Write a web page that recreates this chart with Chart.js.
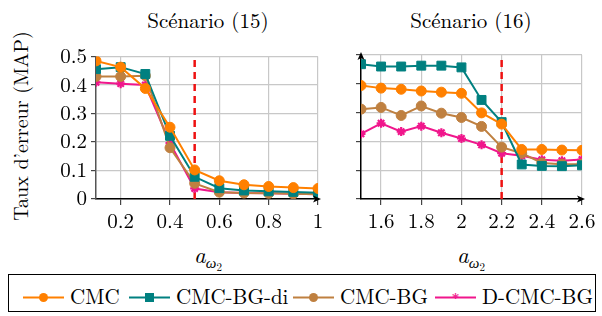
<!DOCTYPE html>
<html>
<head>
<meta charset="utf-8">
<script src="https://cdn.jsdelivr.net/npm/chart.js@4"></script>
<style>
  body { margin: 0; background: #fff; width: 602px; height: 316px; position: relative; overflow: hidden;
         font-family: 'Latin Modern Roman', 'Liberation Serif', serif; color: #000; }
  .box { position: absolute; }
  .title { position: absolute; font-size: 21px; text-align: center; width: 200px; }
  .xlab { position: absolute; font-size: 23px; text-align: center; width: 100px; }
  .xlab sub { font-size: 15px; vertical-align: -5px; }
  .xlab sub sub { font-size: 11px; vertical-align: -3px; }
  #ylab { position: absolute; left: 19px; top: 126px; font-size: 20px; white-space: nowrap;
          transform: translate(-50%, -50%) rotate(-90deg); }
  #legend { position: absolute; left: 8px; top: 274px; width: 588px; height: 38px; border: 1px solid #000;
            box-sizing: border-box; font-size: 21px; }
  .item { position: absolute; top: 5px; white-space: nowrap; }
  .item svg { vertical-align: -3px; margin-right: 6px; }
</style>
</head>
<body>
<div class="title" style="left:108px; top:4px;">Scénario (15)</div>
<div class="title" style="left:371px; top:4px;">Scénario (16)</div>
<div id="ylab">Taux d’erreur (MAP)</div>
<div class="xlab" style="left:158px; top:237px;"><i>a</i><sub><i>ω</i><sub>2</sub></sub></div>
<div class="xlab" style="left:421px; top:237px;"><i>a</i><sub><i>ω</i><sub>2</sub></sub></div>

<div class="box" style="left:40px; top:40px; width:290px; height:200px;"><canvas id="c15"></canvas></div>
<div class="box" style="left:340px; top:40px; width:262px; height:200px;"><canvas id="c16"></canvas></div>
<div id="legend"></div>

<script>
// series
const names = ["CMC", "CMC-BG-di", "CMC-BG", "D-CMC-BG"];
const colors = ["#ff8000", "#008080", "#bf8040", "#f0168c"];
const markers = ["circle", "rect", "circle", "star"];
const markerSize = [5, 6.3, 5, 4.5];

// scenario 15
const x15 = [0.1, 0.2, 0.3, 0.4, 0.5, 0.6, 0.7, 0.8, 0.9, 1.0];
const cmc15 =    [0.485, 0.463, 0.388, 0.252, 0.102, 0.064, 0.050, 0.044, 0.040, 0.037];
const cmcBgDi15 = [0.456, 0.463, 0.439, 0.222, 0.078, 0.038, 0.030, 0.027, 0.025, 0.022];
const cmcBg15 =  [0.430, 0.430, 0.433, 0.180, 0.055, 0.024, 0.021, 0.020, 0.018, 0.017];
const dCmcBg15 = [0.410, 0.405, 0.400, 0.196, 0.037, 0.024, 0.021, 0.020, 0.018, 0.017];
const xTicks15 = [0.2, 0.4, 0.6, 0.8, 1];
const cut15 = 0.5;

// scenario 16
const x16 = [1.5, 1.6, 1.7, 1.8, 1.9, 2.0, 2.1, 2.2, 2.3, 2.4, 2.5, 2.6];
const cmc16 =    [0.394, 0.385, 0.381, 0.375, 0.371, 0.367, 0.299, 0.260, 0.172, 0.172, 0.170, 0.169];
const cmcBgDi16 = [0.468, 0.460, 0.460, 0.463, 0.463, 0.457, 0.344, 0.267, 0.120, 0.115, 0.114, 0.117];
const cmcBg16 =  [0.312, 0.318, 0.290, 0.323, 0.298, 0.283, 0.252, 0.180, 0.159, 0.125, 0.121, 0.121];
const dCmcBg16 = [0.226, 0.263, 0.234, 0.253, 0.230, 0.210, 0.188, 0.159, 0.150, 0.136, 0.133, 0.137];
const xTicks16 = [1.6, 1.8, 2, 2.2, 2.4, 2.6];
const cut16 = 2.2;

const yTicks = [0, 0.1, 0.2, 0.3, 0.4, 0.5];
const font = { family: "'Latin Modern Roman', 'Liberation Serif', serif", size: 21 };

// little arrow heads at the ends of the axes
const arrows = {
  id: "arrows",
  afterDraw(chart) {
    const a = chart.chartArea, ctx = chart.ctx;
    ctx.save();
    ctx.fillStyle = "#000";
    ctx.beginPath();
    ctx.moveTo(a.right + 3, a.bottom);
    ctx.lineTo(a.right - 5, a.bottom - 3.5);
    ctx.lineTo(a.right - 3, a.bottom);
    ctx.lineTo(a.right - 5, a.bottom + 3.5);
    ctx.closePath();
    ctx.fill();
    if (chart.options.plugins.arrows.yArrow) {
      ctx.beginPath();
      ctx.moveTo(a.left, a.top - 3);
      ctx.lineTo(a.left - 3.5, a.top + 5);
      ctx.lineTo(a.left, a.top + 3);
      ctx.lineTo(a.left + 3.5, a.top + 5);
      ctx.closePath();
      ctx.fill();
    }
    ctx.restore();
  }
};

function makeChart(id, xs, series, xTicks, cut, opts) {
  const datasets = series.map((ys, i) => ({
    label: names[i],
    data: xs.map((x, j) => ({ x: x, y: ys[j] })),
    borderColor: colors[i],
    backgroundColor: colors[i],
    borderWidth: 2,
    pointStyle: markers[i],
    pointRadius: markerSize[i],
    pointBorderWidth: markers[i] === "star" ? 2.2 : 1,
    tension: 0
  }));
  // cut-off line
  datasets.push({
    label: "cut",
    data: [{ x: cut, y: 0 }, { x: cut, y: 0.5 }],
    borderColor: "#ee1111",
    borderWidth: 2.5,
    borderDash: [7, 5],
    pointRadius: 0
  });

  return new Chart(document.getElementById(id), {
    type: "line",
    data: { datasets },
    plugins: [arrows],
    options: {
      responsive: true,
      maintainAspectRatio: false,
      animation: false,
      layout: { padding: { top: 15, right: opts.right, left: 0, bottom: 0 } },
      plugins: { legend: { display: false }, tooltip: { enabled: false }, arrows: { yArrow: opts.yArrow } },
      scales: {
        x: {
          type: "linear",
          min: xs[0], max: xs[xs.length - 1],
          afterBuildTicks: s => { s.ticks = xTicks.map(v => ({ value: v })); },
          afterFit: s => { s.height = 41; },
          grid: { color: "#c8c8c8", lineWidth: 1.2, tickLength: 6, tickColor: "#444" },
          border: { color: "#000", width: 1.5 },
          ticks: { font, color: "#000", padding: 4, maxRotation: 0, callback: v => String(v) }
        },
        y: {
          min: 0, max: 0.5,
          afterBuildTicks: s => { s.ticks = yTicks.map(v => ({ value: v })); },
          afterFit: s => { s.width = opts.yWidth; },
          grid: { color: "#c8c8c8", lineWidth: 1.2, tickLength: 5, tickColor: "#444" },
          border: { color: opts.yAxisColor, width: 1.5 },
          ticks: { display: opts.yLabels, font, color: "#000", padding: 4, callback: v => String(v) }
        }
      }
    }
  });
}

makeChart("c15", x15, [cmc15, cmcBgDi15, cmcBg15, dCmcBg15], xTicks15, cut15,
  { right: 12, yWidth: 56, yLabels: true, yArrow: false, yAxisColor: "#555" });
makeChart("c16", x16, [cmc16, cmcBgDi16, cmcBg16, dCmcBg16], xTicks16, cut16,
  { right: 20, yWidth: 21, yLabels: false, yArrow: true, yAxisColor: "#000" });

// legend
const legendX = [14, 120, 284, 426];
const legend = document.getElementById("legend");
names.forEach((n, i) => {
  const c = colors[i];
  let m;
  if (markers[i] === "rect") m = `<rect x="16" y="5" width="9" height="9" fill="${c}"/>`;
  else if (markers[i] === "star") m = `<text x="20.5" y="16" font-size="15" text-anchor="middle" fill="${c}" font-weight="bold">*</text>`;
  else m = `<circle cx="20.5" cy="9.5" r="4.5" fill="${c}"/>`;
  const el = document.createElement("div");
  el.className = "item";
  el.style.left = legendX[i] + "px";
  el.innerHTML = `<svg width="41" height="19"><line x1="0" y1="9.5" x2="41" y2="9.5" stroke="${c}" stroke-width="2"/>${m}</svg>${n}`;
  legend.appendChild(el);
});
</script>
</body>
</html>
